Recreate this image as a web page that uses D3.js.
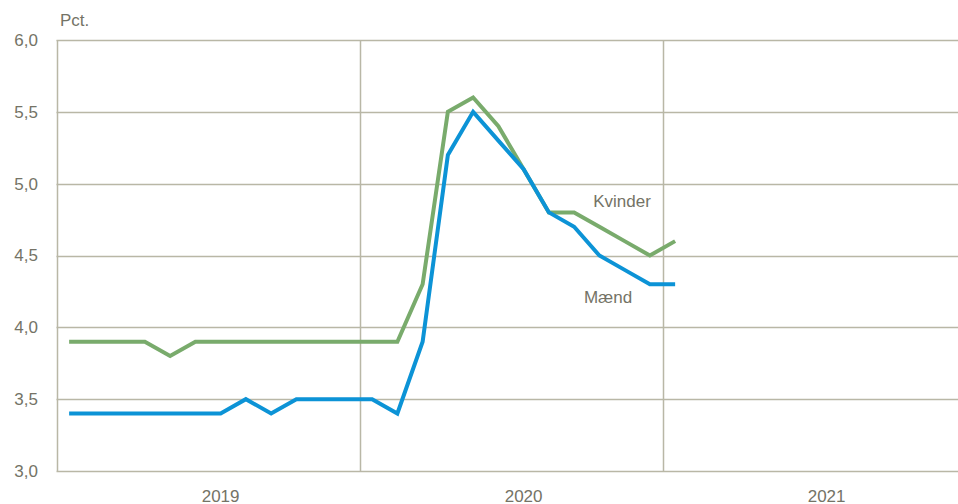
<!DOCTYPE html>
<html>
<head>
<meta charset="utf-8">
<script src="https://cdn.jsdelivr.net/npm/d3@7"></script>
<style>
  html, body { margin: 0; padding: 0; background: #fff; }
  svg { display: block; }
</style>
</head>
<body>
<div id="chart"></div>
<script>
// Monthly unemployment rate (pct.), Jan 2019 - Jan 2021
const months = [
  "2019-01", "2019-02", "2019-03", "2019-04", "2019-05", "2019-06",
  "2019-07", "2019-08", "2019-09", "2019-10", "2019-11", "2019-12",
  "2020-01", "2020-02", "2020-03", "2020-04", "2020-05", "2020-06",
  "2020-07", "2020-08", "2020-09", "2020-10", "2020-11", "2020-12",
  "2021-01"
];
const kvinder = [3.9, 3.9, 3.9, 3.9, 3.8, 3.9, 3.9, 3.9, 3.9, 3.9, 3.9, 3.9,
  3.9, 3.9, 4.3, 5.5, 5.6, 5.4, 5.1, 4.8, 4.8, 4.7, 4.6, 4.5, 4.6];
const maend = [3.4, 3.4, 3.4, 3.4, 3.4, 3.4, 3.4, 3.5, 3.4, 3.5, 3.5, 3.5,
  3.5, 3.4, 3.9, 5.2, 5.5, 5.3, 5.1, 4.8, 4.7, 4.5, 4.4, 4.3, 4.3];
const years = ["2019", "2020", "2021"];
const yTicks = [3.0, 3.5, 4.0, 4.5, 5.0, 5.5, 6.0];

const width = 958, height = 504;
const margin = {top: 40, right: 0, bottom: 33, left: 56.5};
const monthW = 25.25;

const grid = "#b9b7a6";
const textColor = "#747366";

const svg = d3.select("#chart").append("svg")
  .attr("width", width)
  .attr("height", height)
  .attr("font-family", "'Liberation Sans', Arial, sans-serif");

// x in month index units; 36 months = 3 years
const x = d3.scaleLinear()
  .domain([0, 36])
  .range([margin.left, margin.left + 36 * monthW]);
const y = d3.scaleLinear()
  .domain([3, 6])
  .range([height - margin.bottom, margin.top]);

const fmt = d => d3.format(".1f")(d).replace(".", ",");

// horizontal grid
svg.append("g")
  .selectAll("line")
  .data(yTicks)
  .join("line")
  .attr("x1", margin.left)
  .attr("x2", width)
  .attr("y1", d => Math.round(y(d)) + 0.5)
  .attr("y2", d => Math.round(y(d)) + 0.5)
  .attr("stroke", grid)
  .attr("stroke-width", 1.5);

// vertical year separators
svg.append("g")
  .selectAll("line")
  .data([0, 12, 24])
  .join("line")
  .attr("x1", d => Math.round(x(d)) + 0.5)
  .attr("x2", d => Math.round(x(d)) + 0.5)
  .attr("y1", y(6))
  .attr("y2", y(3))
  .attr("stroke", grid)
  .attr("stroke-width", 1.5);

// y labels
svg.append("g")
  .selectAll("text")
  .data(yTicks)
  .join("text")
  .attr("x", 38)
  .attr("y", d => y(d))
  .attr("dy", "0.35em")
  .attr("text-anchor", "end")
  .attr("font-size", 17)
  .attr("fill", textColor)
  .text(fmt);

svg.append("text")
  .attr("x", 60)
  .attr("y", 26)
  .attr("font-size", 17)
  .attr("fill", textColor)
  .text("Pct.");

// year labels under the 7th month of each year
svg.append("g")
  .selectAll("text")
  .data(years)
  .join("text")
  .attr("x", (d, i) => x(i * 12 + 6.5))
  .attr("y", 502)
  .attr("text-anchor", "middle")
  .attr("font-size", 17)
  .attr("fill", textColor)
  .text(d => d);

const line = d3.line()
  .x((d, i) => x(i + 0.5))
  .y(d => y(d));

svg.append("path")
  .attr("d", line(kvinder))
  .attr("fill", "none")
  .attr("stroke", "#79ab6c")
  .attr("stroke-width", 4)
  .attr("stroke-linejoin", "miter");

svg.append("path")
  .attr("d", line(maend))
  .attr("fill", "none")
  .attr("stroke", "#0c93d6")
  .attr("stroke-width", 4)
  .attr("stroke-linejoin", "miter");

// series labels
svg.append("text")
  .attr("x", 622)
  .attr("y", 207)
  .attr("text-anchor", "middle")
  .attr("font-size", 17)
  .attr("fill", textColor)
  .text("Kvinder");

svg.append("text")
  .attr("x", 608)
  .attr("y", 303)
  .attr("text-anchor", "middle")
  .attr("font-size", 17)
  .attr("fill", textColor)
  .text("Mænd");
</script>
</body>
</html>
